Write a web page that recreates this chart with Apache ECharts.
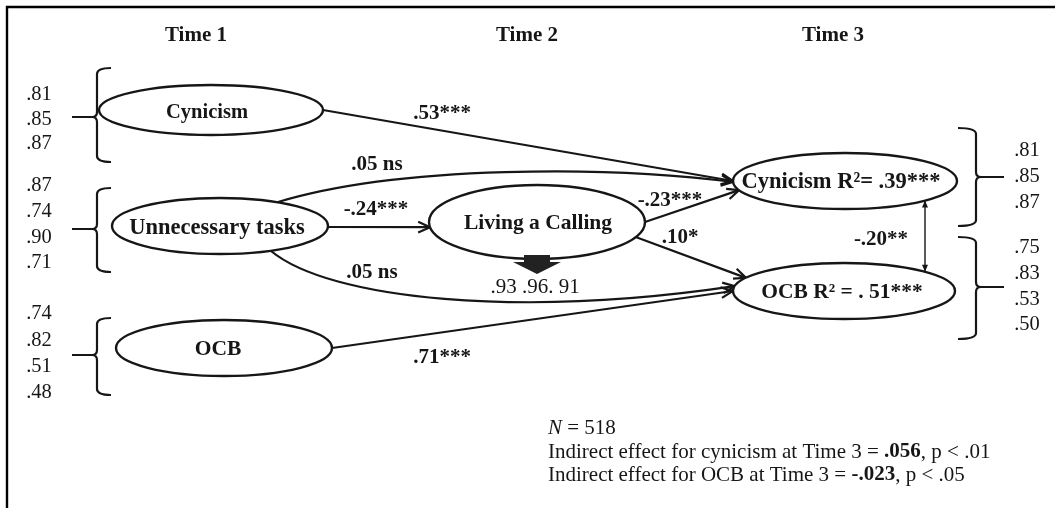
<!DOCTYPE html>
<html><head><meta charset="utf-8">
<script src="https://cdn.jsdelivr.net/npm/echarts@6/dist/echarts.min.js"></script>
<style>html,body{margin:0;padding:0;background:#fff}#c{width:1055px;height:508px}</style>
</head><body><div id="c"></div>
<script>
// ---------------- data (values / texts only) ----------------
const timeLabels = ['Time 1', 'Time 2', 'Time 3'];
const latentNames = ['Cynicism', 'Unnecessary tasks', 'OCB', 'Living a Calling', 'Cynicism R\u00B2= .39***', 'OCB R\u00B2 = . 51***'];
const loadingsCynicismT1 = ['.81', '.85', '.87'];
const loadingsTasks = ['.87', '.74', '.90', '.71'];
const loadingsOcbT1 = ['.74', '.82', '.51', '.48'];
const loadingsCalling = ['.93', '.96.', '91'];
const loadingsCynicismT3 = ['.81', '.85', '.87'];
const loadingsOcbT3 = ['.75', '.83', '.53', '.50'];
const pathFrom = [0, 1, 1, 3, 3, 1, 2];
const pathTo = [4, 4, 3, 4, 5, 5, 5];
const pathCoefficients = ['.53***', '.05 ns', '-.24***', '-.23***', '.10*', '.05 ns', '.71***'];
const residualCovariance = '-.20**';
const sampleSize = '518';
const indirectCynicism = ['.056', 'p < .01'];
const indirectOcb = ['-.023', 'p < .05'];

// ---------------- layout & style (positions, sizes) ----------------
const FONT = "'Liberation Serif', 'Times New Roman', Times, serif";
const INK = '#161616';
const layout = {
  frameXY: [7, 7],
  timeY: 36, timeX: [196, 527, 833], timeSize: 21,
  nodes: [
    { c: [211, 110], r: [112, 25], t: [207, 113], fs: 20.5 },
    { c: [220, 226], r: [108, 28], t: [217, 228], fs: 22.5 },
    { c: [224, 348], r: [108, 28], t: [218, 349], fs: 21.5 },
    { c: [537, 222], r: [108, 37], t: [538, 223], fs: 21.5 },
    { c: [845, 181], r: [112, 28], t: [841, 182], fs: 22.5 },
    { c: [844, 291], r: [111, 28], t: [842, 292], fs: 21.5 }
  ],
  anchors: [[0, 180], [-58, 178], [2, 172], [0, 161], [24, 208], [62, 190], [0, 180]],
  ctrl: [null, [[400, 165], [610, 166]], null, null, null, [[330, 300], [520, 318]], null],
  coefPos: [[442, 114], [377, 165], [376, 210], [670, 201], [680, 238], [372, 273], [442, 358]],
  coefSize: 21,
  covX: 925, covLabel: [881, 240],
  brackets: [
    { vals: 'cynT1', side: 1, x: 97, y0: 68, y1: 162, ym: 117, lx: 39, ly0: 95, dy: 24.5 },
    { vals: 'tasks', side: 1, x: 97, y0: 188, y1: 272, ym: 229, lx: 39, ly0: 186, dy: 25.7 },
    { vals: 'ocbT1', side: 1, x: 97, y0: 318, y1: 395, ym: 355, lx: 39, ly0: 314, dy: 26.3 },
    { vals: 'cynT3', side: -1, x: 976, y0: 128, y1: 226, ym: 177, lx: 1027, ly0: 151, dy: 26 },
    { vals: 'ocbT3', side: -1, x: 976, y0: 237, y1: 339, ym: 287, lx: 1027, ly0: 248, dy: 25.7 }
  ],
  callingArrow: { x: 537, yTop: 255, yNeck: 262, yTip: 274, shaft: 26, head: 24 },
  callingLoad: [535, 287],
  notesX: 548, notesY: [428, 452, 475]
};
const bracketValues = {
  cynT1: loadingsCynicismT1, tasks: loadingsTasks, ocbT1: loadingsOcbT1,
  cynT3: loadingsCynicismT3, ocbT3: loadingsOcbT3
};

// ---------------- helpers ----------------
function ellPt(n, deg) {
  const nd = layout.nodes[n], t = deg * Math.PI / 180;
  return [nd.c[0] + nd.r[0] * Math.cos(t), nd.c[1] + nd.r[1] * Math.sin(t)];
}
function txt(p, text, size, weight, align) {
  return {
    type: 'text', x: p[0], y: p[1],
    style: { text: text, fontFamily: FONT, fontSize: size, fontWeight: weight || 'normal',
      fill: INK, align: align || 'center', verticalAlign: 'middle' }
  };
}
function openHead(tip, from, len, spread) {
  const a = Math.atan2(tip[1] - from[1], tip[0] - from[0]);
  const l = [tip[0] - len * Math.cos(a - spread), tip[1] - len * Math.sin(a - spread)];
  const r = [tip[0] - len * Math.cos(a + spread), tip[1] - len * Math.sin(a + spread)];
  return { type: 'polyline', shape: { points: [l, tip, r] },
    style: { stroke: INK, lineWidth: 2.2, fill: null, lineJoin: 'miter' } };
}
function filledHead(tip, from, len, half) {
  const a = Math.atan2(tip[1] - from[1], tip[0] - from[0]);
  const bx = tip[0] - len * Math.cos(a), by = tip[1] - len * Math.sin(a);
  const nx = -Math.sin(a) * half, ny = Math.cos(a) * half;
  return { type: 'polygon', shape: { points: [tip, [bx + nx, by + ny], [bx - nx, by - ny]] },
    style: { fill: INK } };
}

// ---------------- series ----------------
const nodeSeries = {
  type: 'custom', name: 'constructs', coordinateSystem: 'cartesian2d', silent: true,
  data: latentNames.map((n, i) => ({ name: n, value: layout.nodes[i].c })),
  renderItem: function (params, api) {
    const i = params.dataIndex, nd = layout.nodes[i];
    const c = api.coord(nd.c), r = api.size(nd.r);
    return { type: 'group', children: [
      { type: 'ellipse', shape: { cx: c[0], cy: c[1], rx: r[0], ry: r[1] },
        style: { fill: '#fff', stroke: INK, lineWidth: 2.4 } },
      txt(api.coord(nd.t), latentNames[i], nd.fs, 'bold')
    ] };
  }
};

const pathSeries = {
  type: 'custom', name: 'paths', coordinateSystem: 'cartesian2d', silent: true, z: 1,
  data: pathCoefficients.map((c, i) => ({ name: c, value: layout.coefPos[i] })),
  renderItem: function (params, api) {
    const i = params.dataIndex;
    const s = api.coord(ellPt(pathFrom[i], layout.anchors[i][0]));
    const e = api.coord(ellPt(pathTo[i], layout.anchors[i][1]));
    const cp = layout.ctrl[i];
    const kids = [];
    let from;
    if (cp) {
      const c1 = api.coord(cp[0]), c2 = api.coord(cp[1]);
      kids.push({ type: 'bezierCurve', shape: { x1: s[0], y1: s[1], x2: e[0], y2: e[1],
        cpx1: c1[0], cpy1: c1[1], cpx2: c2[0], cpy2: c2[1] },
        style: { stroke: INK, lineWidth: 2.2, fill: null } });
      from = c2;
    } else {
      kids.push({ type: 'line', shape: { x1: s[0], y1: s[1], x2: e[0], y2: e[1] },
        style: { stroke: INK, lineWidth: 2.2 } });
      from = s;
    }
    kids.push(openHead(e, from, 13, 0.42));
    kids.push(txt(api.coord(layout.coefPos[i]), pathCoefficients[i], layout.coefSize, 'bold'));
    return { type: 'group', children: kids };
  }
};

const covSeries = {
  type: 'custom', name: 'covariance', coordinateSystem: 'cartesian2d', silent: true,
  data: [{ name: residualCovariance, value: layout.covLabel }],
  renderItem: function (params, api) {
    const x = layout.covX;
    const a = layout.nodes[4], b = layout.nodes[5];
    const ya = a.c[1] + a.r[1] * Math.sqrt(1 - Math.pow((x - a.c[0]) / a.r[0], 2));
    const yb = b.c[1] - b.r[1] * Math.sqrt(1 - Math.pow((x - b.c[0]) / b.r[0], 2));
    const p1 = api.coord([x, ya]), p2 = api.coord([x, yb]);
    return { type: 'group', children: [
      { type: 'line', shape: { x1: p1[0], y1: p1[1], x2: p2[0], y2: p2[1] }, style: { stroke: INK, lineWidth: 1.4 } },
      filledHead(p1, p2, 7, 3),
      filledHead(p2, p1, 7, 3),
      txt(api.coord(layout.covLabel), residualCovariance, layout.coefSize, 'bold')
    ] };
  }
};

const bracketSeries = {
  type: 'custom', name: 'loadings', coordinateSystem: 'cartesian2d', silent: true,
  data: layout.brackets.map(b => ({ name: b.vals, value: [b.x, b.ym] })),
  renderItem: function (params, api) {
    const b = layout.brackets[params.dataIndex];
    const s = b.side;
    const P = p => api.coord(p);
    const top = P([b.x, b.y0]), bot = P([b.x, b.y1]), mid = P([b.x, b.ym]);
    const x = top[0];
    const hook = s > 0 ? 14 : 18, tick = s > 0 ? 25 : 28;
    const d = [
      'M', x + s * hook, top[1], 'Q', x, top[1], x, top[1] + 6,
      'L', x, mid[1] - 5, 'Q', x, mid[1], x - s * 5, mid[1],
      'L', x - s * tick, mid[1],
      'M', x - s * 5, mid[1], 'Q', x, mid[1], x, mid[1] + 5,
      'L', x, bot[1] - 6, 'Q', x, bot[1], x + s * hook, bot[1]
    ].join(' ');
    const kids = [{ type: 'path', shape: { pathData: d }, style: { stroke: INK, lineWidth: 2.2, fill: null } }];
    bracketValues[b.vals].forEach((v, k) => kids.push(txt(P([b.lx, b.ly0 + k * b.dy]), v, 20.5, 'normal')));
    return { type: 'group', children: kids };
  }
};

const textSeries = {
  type: 'custom', name: 'annotations', coordinateSystem: 'cartesian2d', silent: true,
  data: [{ value: [0, 0] }],
  renderItem: function (params, api) {
    const kids = [];
    const f0 = api.coord([layout.frameXY[0], layout.frameXY[1]]);
    const f1 = api.coord([1055, 508]);
    kids.push({ type: 'polyline', shape: { points: [[f0[0], f1[1] + 2], [f0[0], f0[1]], [f1[0] + 2, f0[1]]] },
      style: { stroke: '#000', lineWidth: 2.4, fill: null } });
    timeLabels.forEach((t, i) => kids.push(txt(api.coord([layout.timeX[i], layout.timeY]), t, layout.timeSize, 'bold')));
    // Living a Calling block arrow + loadings
    const ca = layout.callingArrow;
    const pts = [[ca.x - ca.shaft / 2, ca.yTop], [ca.x + ca.shaft / 2, ca.yTop], [ca.x + ca.shaft / 2, ca.yNeck],
      [ca.x + ca.head, ca.yNeck], [ca.x, ca.yTip], [ca.x - ca.head, ca.yNeck], [ca.x - ca.shaft / 2, ca.yNeck]].map(p => api.coord(p));
    kids.push({ type: 'polygon', shape: { points: pts }, style: { fill: '#222' } });
    kids.push(txt(api.coord(layout.callingLoad), loadingsCalling.join(' '), 21, 'normal'));
    // notes
    const base = { fontFamily: FONT, fontSize: 21, fill: INK };
    const rich = {
      r: Object.assign({}, base, { fontWeight: 'normal' }),
      b: Object.assign({}, base, { fontWeight: 'bold' }),
      i: Object.assign({}, base, { fontStyle: 'italic' })
    };
    const lines = [
      '{i|N}{r| = ' + sampleSize + '}',
      '{r|Indirect effect for cynicism at Time 3 = }{b|' + indirectCynicism[0] + '}{r|, ' + indirectCynicism[1] + '}',
      '{r|Indirect effect for OCB at Time 3 = }{b|' + indirectOcb[0] + '}{r|, ' + indirectOcb[1] + '}'
    ];
    lines.forEach((l, k) => {
      const p = api.coord([layout.notesX, layout.notesY[k]]);
      kids.push({ type: 'text', x: p[0], y: p[1],
        style: Object.assign({ text: l, rich: rich, align: 'left', verticalAlign: 'middle' }, base) });
    });
    return { type: 'group', children: kids };
  }
};

const chart = echarts.init(document.getElementById('c'), null, { renderer: 'canvas' });
chart.setOption({
  animation: false,
  backgroundColor: '#fff',
  grid: { left: 0, right: 0, top: 0, bottom: 0 },
  xAxis: { type: 'value', min: 0, max: 1055, show: false },
  yAxis: { type: 'value', min: 0, max: 508, inverse: true, show: false },
  series: [pathSeries, nodeSeries, covSeries, bracketSeries, textSeries]
});
</script></body></html>
